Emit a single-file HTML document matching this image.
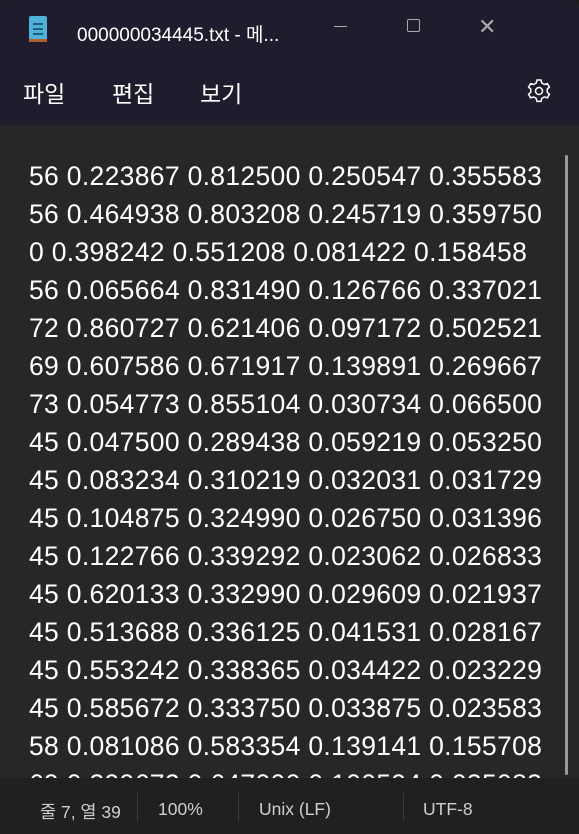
<!DOCTYPE html>
<html><head><meta charset="utf-8"><style>
body{margin:0;width:579px;height:834px;overflow:hidden;background:#1c1c1c;font-family:"Liberation Sans","Noto Sans CJK KR",sans-serif;}
#win{position:absolute;left:0;top:0;width:579px;height:834px;border-radius:8px 8px 0 0;overflow:hidden;background:#272727;}
#top{position:absolute;left:0;top:0;width:579px;height:125px;background:#211c2d;}
.t{position:absolute;white-space:nowrap;color:#fff;}
#edit{position:absolute;left:0;top:125px;width:579px;height:653px;background:#272727;overflow:hidden;}
.line{position:absolute;left:29px;font-size:26.5px;color:#fff;white-space:nowrap;line-height:30px;letter-spacing:0.32px;}
#status{position:absolute;left:0;top:778px;width:579px;height:56px;background:#202020;}
.s{position:absolute;top:21px;font-size:17.5px;color:#cfcfcf;white-space:nowrap;}
.sep{position:absolute;top:15px;width:1px;height:28px;background:#3a3a3a;}
</style></head><body>
<div id="win">
<div id="top">
  <svg style="position:absolute;left:28px;top:14px" width="20" height="29">
    <rect x="1" y="2" width="18" height="25" rx="2" fill="#4fb3d9"/><rect x="1" y="25" width="18" height="3" fill="#b0602a"/>
    <rect x="5" y="9" width="10" height="2" fill="#1d5f80"/><rect x="5" y="14" width="10" height="2" fill="#1d5f80"/><rect x="5" y="19" width="10" height="2" fill="#1d5f80"/>
  </svg>
  <div class="t" style="left:77px;top:20px;font-size:19px">000000034445.txt - 메...</div>
  <div style="position:absolute;left:334px;top:26px;width:13px;height:1px;background:#aaa"></div>
  <div style="position:absolute;left:407px;top:19px;width:11px;height:11px;border:1px solid #aaa;border-radius:2px"></div>
  <div class="t" style="left:478px;top:14px;font-size:22px;color:#aaa">✕</div>
  <div class="t" style="left:23px;top:75px;font-size:23px">파일</div>
  <div class="t" style="left:112px;top:75px;font-size:23px">편집</div>
  <div class="t" style="left:200px;top:75px;font-size:23px">보기</div>
  <svg style="position:absolute;left:525px;top:77px" width="28" height="28" viewBox="0 0 28 28">
    <g fill="none" stroke="#fff" stroke-width="1.5"><circle cx="14" cy="14" r="3.5"/>
    <path d="M12 3h4l.8 3 2.6 1.5 3-.9 2 3.5-2.2 2.1v3l2.2 2.1-2 3.5-3-.9-2.6 1.5-.8 3h-4l-.8-3-2.6-1.5-3 .9-2-3.5 2.2-2.1v-3L3.6 10.1l2-3.5 3 .9L11.2 6z"/></g></svg>
</div>
<div id="edit">
<div class="line" style="top:36px">56 0.223867 0.812500 0.250547 0.355583</div>
<div class="line" style="top:74px">56 0.464938 0.803208 0.245719 0.359750</div>
<div class="line" style="top:112px">0 0.398242 0.551208 0.081422 0.158458</div>
<div class="line" style="top:150px">56 0.065664 0.831490 0.126766 0.337021</div>
<div class="line" style="top:188px">72 0.860727 0.621406 0.097172 0.502521</div>
<div class="line" style="top:226px">69 0.607586 0.671917 0.139891 0.269667</div>
<div class="line" style="top:264px">73 0.054773 0.855104 0.030734 0.066500</div>
<div class="line" style="top:302px">45 0.047500 0.289438 0.059219 0.053250</div>
<div class="line" style="top:340px">45 0.083234 0.310219 0.032031 0.031729</div>
<div class="line" style="top:378px">45 0.104875 0.324990 0.026750 0.031396</div>
<div class="line" style="top:416px">45 0.122766 0.339292 0.023062 0.026833</div>
<div class="line" style="top:454px">45 0.620133 0.332990 0.029609 0.021937</div>
<div class="line" style="top:492px">45 0.513688 0.336125 0.041531 0.028167</div>
<div class="line" style="top:530px">45 0.553242 0.338365 0.034422 0.023229</div>
<div class="line" style="top:568px">45 0.585672 0.333750 0.033875 0.023583</div>
<div class="line" style="top:606px">58 0.081086 0.583354 0.139141 0.155708</div>
<div class="line" style="top:644px">69 0.399672 0.647000 0.100594 0.035083</div>
<div style="position:absolute;left:565px;top:30px;width:3px;height:620px;background:#9a9a9a;border-radius:2px"></div>
</div>
<div id="status">
  <div class="s" style="left:40px">줄 7, 열 39</div>
  <div class="sep" style="left:137px"></div>
  <div class="s" style="left:158px">100%</div>
  <div class="sep" style="left:238px"></div>
  <div class="s" style="left:259px">Unix (LF)</div>
  <div class="sep" style="left:403px"></div>
  <div class="s" style="left:423px">UTF-8</div>
</div>
</div>
</body></html>
